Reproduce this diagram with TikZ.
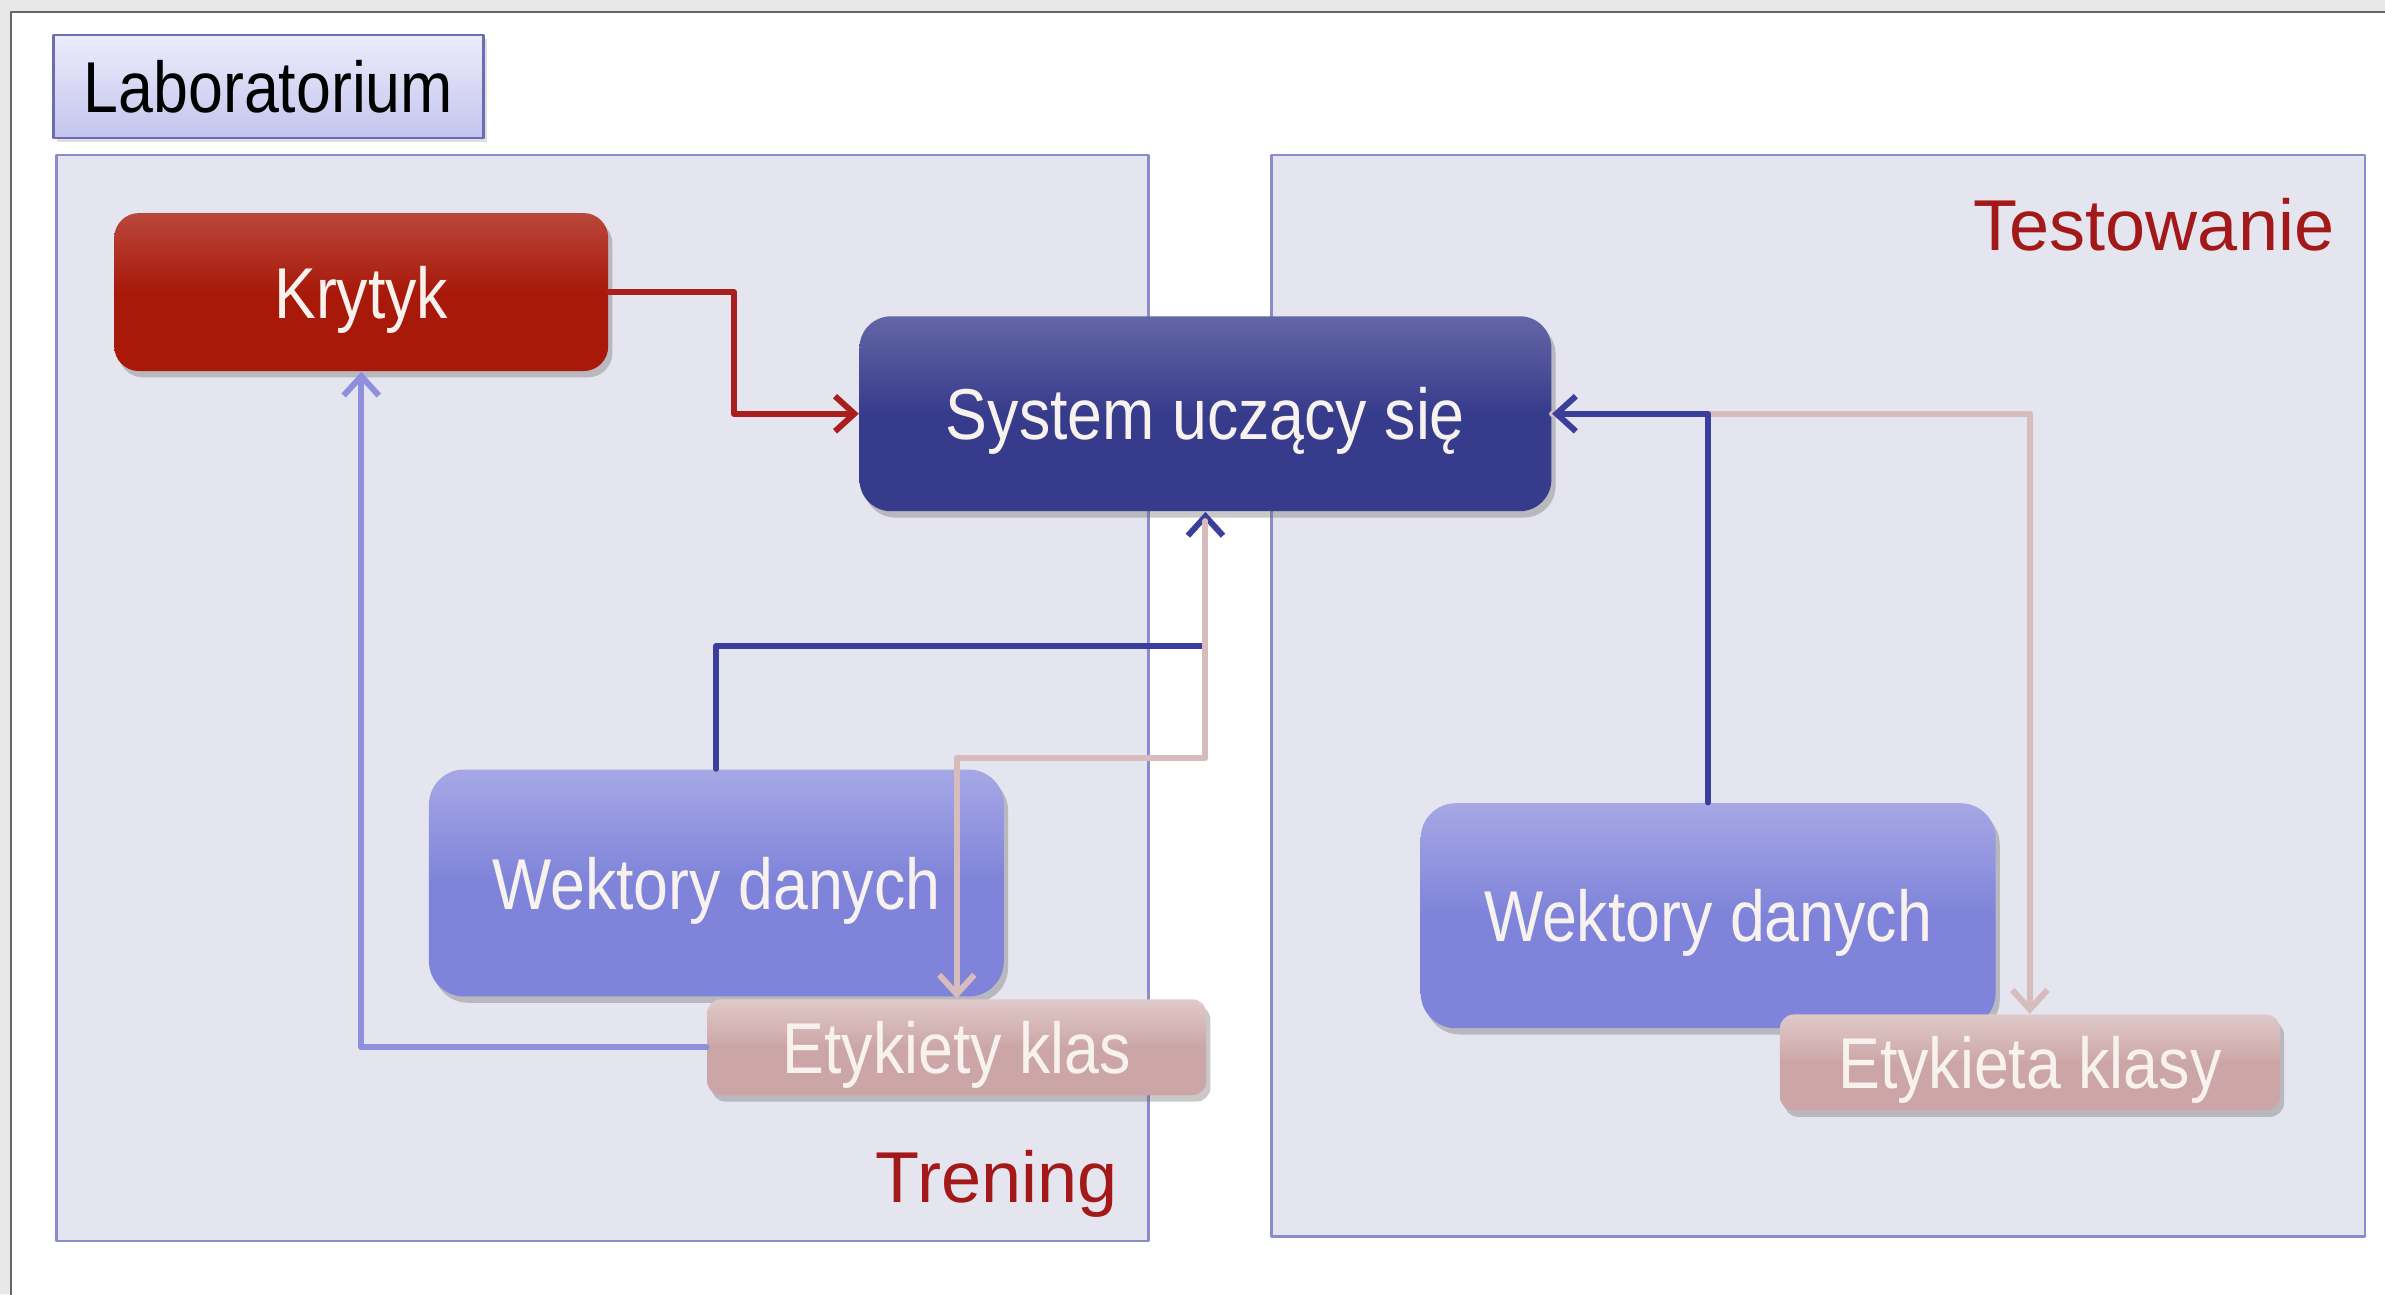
\documentclass[tikz,border=0pt]{standalone}
\usepackage{fontspec}
\setmainfont{Liberation Sans}
\newfontfamily\narrowfont[FakeStretch=0.87]{Liberation Sans}
\usetikzlibrary{arrows.meta,shadows,calc}
\definecolor{panelfill}{HTML}{E4E5EE}
\definecolor{panelline}{HTML}{8C8CCC}
\definecolor{labtop}{HTML}{ECECFB}
\definecolor{labbot}{HTML}{C4C4EE}
\definecolor{labline}{HTML}{6C6CB4}
\definecolor{krred}{HTML}{A8190A}
\definecolor{sysblue}{HTML}{373B8C}
\definecolor{wdblue}{HTML}{7F83D9}
\definecolor{ekpink}{HTML}{CCA6A6}
\definecolor{boxtext}{HTML}{F7F2EE}
\definecolor{tagred}{HTML}{A31818}
\definecolor{krline}{HTML}{AA1E1E}
\definecolor{lavline}{HTML}{8E90DE}
\definecolor{sysline}{HTML}{3B3F9C}
\definecolor{pinkline}{HTML}{D6BCBC}
\begin{document}
\begin{tikzpicture}[x=0.01521cm,y=-0.01521cm,>={Straight Barb[length=5.5pt,width=10pt]},line join=round,line cap=round,
	panel/.style={draw=panelline,fill=panelfill,line width=0.7pt},
	box/.style={rounded corners=#1,inner sep=0pt,text=boxtext,text depth=0pt,font=\narrowfont\fontsize{20.5}{24}\selectfont,
		drop shadow={shadow xshift=1.2pt,shadow yshift=-1.8pt,opacity=0.35,fill=black!60}},
	box/.default=6pt,
	tag/.style={text=tagred,font=\fontsize{20.5}{24}\selectfont,inner sep=0pt},
	conn/.style={line width=1.7pt}]
	\useasboundingbox (0,0) rectangle (1568,851);
	\fill[white] (0,0) rectangle (1568,851);
	% ramka okna
	\fill[black!9] (0,0) rectangle (1568,8) (0,0) rectangle (7,851);
	\draw[black!60,line width=0.6pt] (7,851) |- (1568,8);
	% panele
	\draw[panel] (37,102) rectangle (755,816);
	\draw[panel] (836,102) rectangle (1555,813);
	\node[draw=labline,line width=0.7pt,top color=labtop,bottom color=labbot,inner sep=0pt,
		minimum width=4.30cm,minimum height=1.03cm,font=\narrowfont\fontsize{20.5}{24}\selectfont,
		drop shadow={shadow xshift=1pt,shadow yshift=-1pt,opacity=0.25}] (lab) at (176.5,57) {Laboratorium};
	\node[tag,anchor=east] (tst) at (1535,148) {Testowanie};
	\node[tag,anchor=east] (trn) at (735,778) {Trening};
	% bloki
	\node[box=7pt,top color=krred!80!white,bottom color=krred,middle color=krred,
		minimum width=4.94cm,minimum height=1.58cm] (kr) at (237.5,192) {Krytyk};
	\node[box=9pt,top color=sysblue!78!white,bottom color=sysblue,middle color=sysblue,
		minimum width=6.92cm,minimum height=1.95cm] (sys) at (792.5,272) {System uczący się};
	\node[box=10pt,top color=wdblue!70!white,bottom color=wdblue,middle color=wdblue,
		minimum width=5.75cm,minimum height=2.27cm] (wd1) at (471,580.5) {Wektory danych};
	\node[box=4pt,top color=ekpink!60!white,bottom color=ekpink,middle color=ekpink,
		minimum width=4.99cm,minimum height=0.96cm] (ek1) at (629,688.5) {Etykiety klas};
	\node[box=10pt,top color=wdblue!70!white,bottom color=wdblue,middle color=wdblue,
		minimum width=5.75cm,minimum height=2.25cm] (wd2) at (1123,602) {Wektory danych};
	\node[box=4pt,top color=ekpink!60!white,bottom color=ekpink,middle color=ekpink,
		minimum width=5.00cm,minimum height=0.96cm] (ek2) at (1334.5,698.5) {Etykieta klasy};
	% trening
	\draw[conn,krline,->] (kr.east) -| ($(kr.east)!.5!(sys.west)$) |- (sys.west);
	\draw[conn,lavline,->] (ek1.west) -| (kr.south);
	\draw[conn,sysline,->] (wd1.north) |- ($(sys.south)+(0,88)$) -- (sys.south);
	\draw[conn,pinkline,->] ($(sys.south)+(0,6)$) -- ++(0,156) -| (ek1.north);
	% testowanie
	\draw[conn,pinkline,->] (sys.east) -| (ek2.north);
	\draw[conn,sysline,->] (wd2.north) |- (sys.east);
\end{tikzpicture}
\end{document}
